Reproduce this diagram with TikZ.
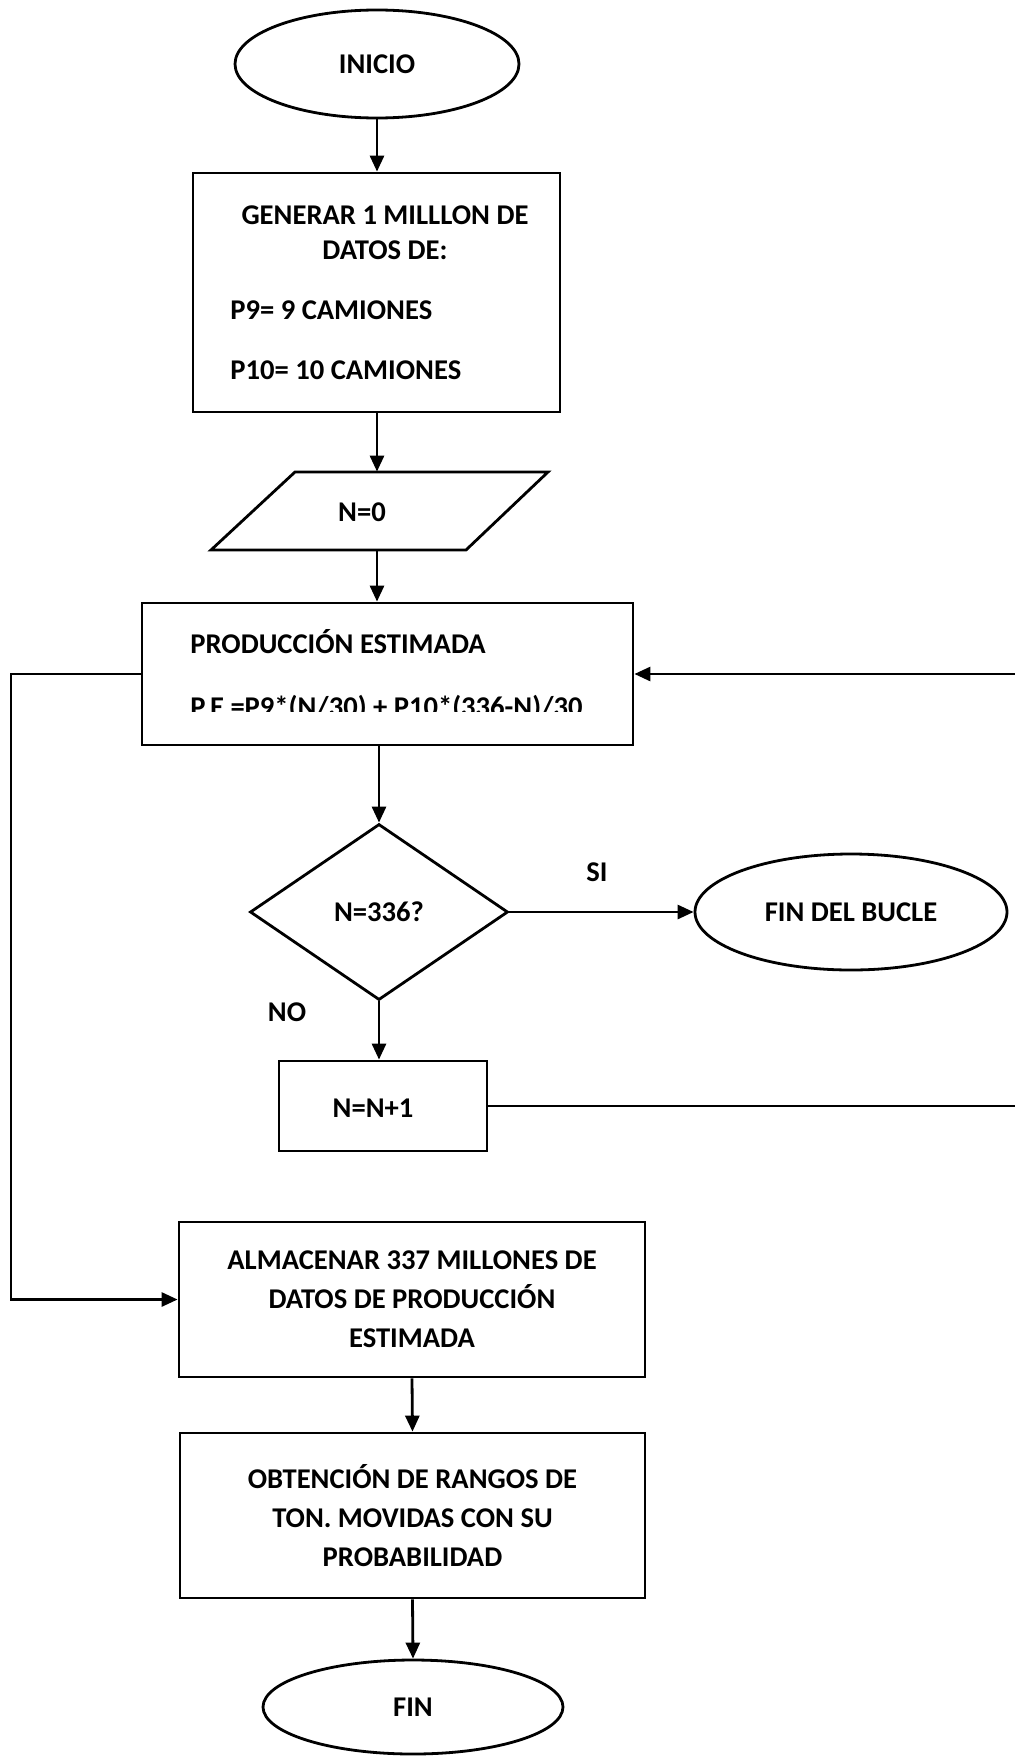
\documentclass[tikz,border=0pt]{standalone}
\usepackage{fontspec}
\setmainfont{Carlito}
\usetikzlibrary{shapes,arrows,positioning,calc,arrows.meta}

\tikzset{
    caja/.style={draw, line width=1.4pt, rectangle, inner sep=0pt},
    ovalo/.style={draw, line width=1.4pt, ellipse, inner sep=0pt},
    rombo/.style={draw, line width=1.4pt, diamond, inner sep=0pt},
    linea/.style={line width=1.4pt},
    flecha/.style={line width=1.4pt, -{Triangle[width=7pt,length=8pt]}},
    texto/.style={font=\fontsize{14.3}{19.5}\selectfont\bfseries, align=center, inner sep=0pt}
}

\begin{document}
\begin{tikzpicture}[x=0.5pt,y=-0.5pt]
    \useasboundingbox (0,0) rectangle (1015,1756);

    % INICIO
    \node[ovalo, texto, minimum width=142pt, minimum height=54pt] (inicio) at (377,64) {INICIO};

    % generar datos
    \node[caja, minimum width=183.5pt, minimum height=119.5pt] (datos) at (376.5,292.5) {};
    \node[texto] (gen1) at (385,215) {GENERAR 1 MILLLON DE};
    \node[texto] (gen2) at (385,250) {DATOS DE:};
    \node[texto, anchor=west] (pnueve) at (230,310) {P9= 9 CAMIONES};
    \node[texto, anchor=west] (pdiez) at (230,370) {P10= 10 CAMIONES};

    % N=0
    \node[minimum width=126.5pt, minimum height=39pt, inner sep=0pt] (ncero) at (379.5,511) {};
    \draw[linea] (295,472) -- (548,472) -- (466,550) -- (211,550) -- cycle;
    \node[texto] (tncero) at (362,512) {N=0};

    % produccion estimada
    \node[caja, minimum width=245.5pt, minimum height=71pt] (prod) at (387.5,674) {};
    \node[texto, anchor=west] (tprod) at (190,642) {PRODUCCIÓN ESTIMADA};
    \begin{scope}
        \clip (150,690) rectangle (630,711);
        \node[texto, anchor=west] (formula) at (190,708) {P.E =P9*(N/30) + P10*(336-N)/30};
    \end{scope}

    % decision
    \node[rombo, texto, minimum width=129pt, minimum height=88pt] (cond) at (379,912) {N=336?};
    \node[ovalo, texto, minimum width=156pt, minimum height=58pt] (finbucle) at (851,912) {FIN DEL BUCLE};
    \node[texto] (si) at (597,872) {SI};
    \node[texto] (no) at (287,1012) {NO};

    % N=N+1
    \node[caja, minimum width=104pt, minimum height=45pt] (incr) at (383,1106) {};
    \node[texto] (tincr) at (373,1108) {N=N+1};

    % almacenar
    \node[caja, texto, minimum width=233pt, minimum height=77.5pt] (almac) at (412,1299.5)
        {ALMACENAR 337 MILLONES DE\\DATOS DE PRODUCCIÓN\\ESTIMADA};

    % rangos
    \node[caja, texto, minimum width=232.5pt, minimum height=82.5pt] (rangos) at (412.5,1515.5)
        {OBTENCIÓN DE RANGOS DE\\TON. MOVIDAS CON SU\\PROBABILIDAD};

    % FIN
    \node[ovalo, texto, minimum width=150pt, minimum height=47pt] (fin) at (413,1707) {FIN};

    \coordinate (derecha) at (1030,900);
    \coordinate (izq) at (11,1000);

    % conectores
    \draw[flecha] (inicio.south) -- (inicio.south |- datos.north);
    \draw[flecha] (datos.south -| inicio.south) -- (inicio.south |- ncero.north);
    \draw[flecha] (ncero.south -| inicio.south) -- (inicio.south |- prod.north);
    \draw[flecha] (cond.north |- prod.south) -- (cond.north);
    \draw[flecha] (cond.east) -- (finbucle.west);
    \draw[flecha] (cond.south) -- (cond.south |- incr.north);
    \draw[flecha] (incr.east) -- (incr.east -| derecha) -- (prod.east -| derecha) -- (prod.east);
    \draw[flecha] (prod.west) -| (izq) |- (almac.west);
    \draw[flecha] (almac.south) -- (rangos.north);
    \draw[flecha] (rangos.south) -- (fin.north);
\end{tikzpicture}
\end{document}
